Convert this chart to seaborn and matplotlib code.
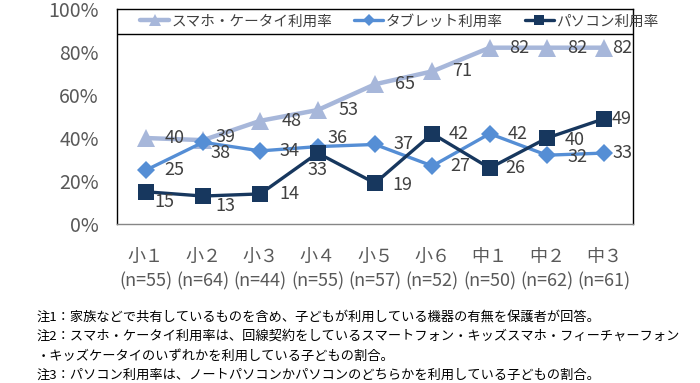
import pandas as pd
import matplotlib.pyplot as plt
import seaborn as sns

# --- data ---
grades = ["小１", "小２", "小３", "小４", "小５", "小６", "中１", "中２", "中３"]
n_sizes = [55, 64, 44, 55, 57, 52, 50, 62, 61]
smartphone = [40, 39, 48, 53, 65, 71, 82, 82, 82]
tablet = [25, 38, 34, 36, 37, 27, 42, 32, 33]
pc = [15, 13, 14, 33, 19, 42, 26, 40, 49]

series_names = ["スマホ・ケータイ利用率", "タブレット利用率", "パソコン利用率"]

notes = [
    "注1：家族などで共有しているものを含め、子どもが利用している機器の有無を保護者が回答。",
    "注2：スマホ・ケータイ利用率は、回線契約をしているスマートフォン・キッズスマホ・フィーチャーフォン",
    "・キッズケータイのいずれかを利用している子どもの割合。",
    "注3：パソコン利用率は、ノートパソコンかパソコンのどちらかを利用している子どもの割合。",
]

# label offsets (pixels, label centre relative to marker)
smart_off = [(29, 0), (22, 3), (31, 0), (31, 0), (30, 0), (30, 0), (30, 0), (30, 0), (18, 0)]
tablet_off = [(29, 0), (18, -11), (29, 0), (20, 9), (28, 0), (28, 0), (28, 0), (30, -2), (18, 0)]
pc_off = [(19, -10), (22, -10), (29, 0), (0, -17), (27, -2), (26, 0), (26, 0), (28, -2), (17, 0)]

labels = [f"{g}\n(n={n})" for g, n in zip(grades, n_sizes)]
df = pd.DataFrame({"label": labels, "smart": smartphone, "tablet": tablet, "pc": pc})

sns.set_style("white")
plt.rcParams["font.family"] = ["Noto Sans CJK JP", "DejaVu Sans"]

text_col = "#404040"
c_smart = "#A7B7DA"
c_tablet = "#558ED5"
c_pc = "#17375E"

fig = plt.figure(figsize=(7, 3.83), dpi=100)
ax = fig.add_axes([117 / 700, 1 - 224 / 383, 516 / 700, 215 / 383])

sns.lineplot(data=df, x="label", y="smart", ax=ax, color=c_smart, linewidth=3.2,
             marker="^", markersize=13, markeredgewidth=0, label=series_names[0], sort=False)
sns.lineplot(data=df, x="label", y="tablet", ax=ax, color=c_tablet, linewidth=2.4,
             marker="D", markersize=9, markeredgewidth=0, label=series_names[1], sort=False)
sns.lineplot(data=df, x="label", y="pc", ax=ax, color=c_pc, linewidth=2.4,
             marker="s", markersize=11, markeredgewidth=0, label=series_names[2], sort=False)

# data labels
for vals, offs in [(smartphone, smart_off), (tablet, tablet_off), (pc, pc_off)]:
    for i, (v, (dx, dy)) in enumerate(zip(vals, offs)):
        ax.annotate(str(v), (i, v), xytext=(dx, dy), textcoords="offset pixels",
                    ha="center", va="center", fontsize=13, color=text_col)

ax.set_xlim(-0.5, len(grades) - 0.5)
ax.set_ylim(0, 100)
ax.set_yticks(range(0, 101, 20))
ax.set_yticklabels([f"{v}%" for v in range(0, 101, 20)])
ax.set_xlabel("")
ax.set_ylabel("")

ax.tick_params(axis="y", length=0, pad=13, labelsize=14, labelcolor="#595959")
ax.tick_params(axis="x", which="major", length=0, pad=17, labelsize=13, labelcolor="#595959")
ax.set_xticks([i + 0.5 for i in range(len(grades) - 1)], minor=True)
ax.tick_params(axis="x", which="minor", direction="in", length=5, width=1, color="#868686")
for lbl in ax.get_xticklabels():
    lbl.set_linespacing(1.5)

for side in ["left", "top", "right"]:
    ax.spines[side].set_color("black")
    ax.spines[side].set_linewidth(1)
ax.spines["bottom"].set_color("#868686")
ax.spines["bottom"].set_linewidth(1)

# legend strip along the top of the plot area, closed by a rule underneath
ax.axhline(88.4, color="black", linewidth=1)
leg = ax.legend(loc="center left", bbox_to_anchor=(0.045, 0.942),
                ncol=3, borderaxespad=0, borderpad=0, frameon=False, columnspacing=1.5,
                fontsize=10.5, handlelength=2.0, handletextpad=0.15, markerscale=0.7)
for t in leg.get_texts():
    t.set_color(text_col)

for k, line in enumerate(notes):
    fig.text(37 / 700, 1 - (317 + 19.5 * k) / 383, line, fontsize=9.5, color="black",
             ha="left", va="center")

plt.savefig("out.png", dpi=100)
